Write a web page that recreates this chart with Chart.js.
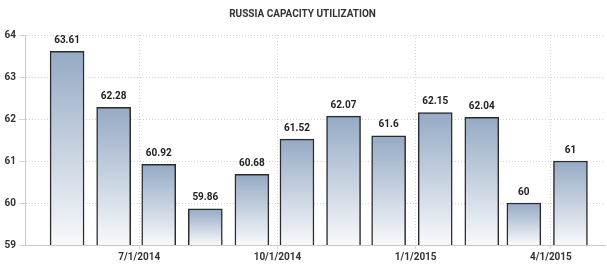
<!DOCTYPE html>
<html>
<head>
<meta charset="utf-8">
<script src="https://cdn.jsdelivr.net/npm/chart.js@4"></script>
<style>
  html, body { margin: 0; padding: 0; background: #fff; }
  #wrap { width: 607px; height: 264px; }
</style>
</head>
<body>
<div id="wrap"><canvas id="myChart" width="607" height="264"></canvas></div>
<script>
// bars sit mid-month, axis ticks on the first of each quarter
const barDates = ['2014-05-14', '2014-06-14', '2014-07-14', '2014-08-14', '2014-09-14', '2014-10-14',
                  '2014-11-14', '2014-12-14', '2015-01-14', '2015-02-14', '2015-03-14', '2015-04-14'];
const values = [63.61, 62.28, 60.92, 59.86, 60.68, 61.52, 62.07, 61.6, 62.15, 62.04, 60, 61];
const tickDates = ['2014-07-01', '2014-10-01', '2015-01-01', '2015-04-01'];
const tickLabels = ['7/1/2014', '10/1/2014', '1/1/2015', '4/1/2015'];
const rangeStart = '2014-04-16';
const rangeEnd = '2015-05-07';

const day = d => Date.parse(d) / 86400000;
const labelFont = { family: 'Roboto', size: 10, weight: 'bold' };

const valueLabels = {
    id: 'valueLabels',
    afterDatasetsDraw(chart) {
        const ctx = chart.ctx;
        const meta = chart.getDatasetMeta(0);
        ctx.save();
        ctx.font = 'bold 10px Roboto';
        ctx.fillStyle = '#222';
        ctx.textAlign = 'center';
        ctx.textBaseline = 'bottom';
        meta.data.forEach((bar, i) => {
            ctx.fillText(String(values[i]), bar.x, bar.y - 6);
        });
        ctx.restore();
    }
};

const ctx = document.getElementById('myChart');
const myChart = new Chart(ctx, {
    type: 'bar',
    data: {
        datasets: [{
            data: barDates.map((d, i) => ({ x: day(d), y: values[i] })),
            backgroundColor: (c) => {
                const chart = c.chart;
                const area = chart.chartArea;
                if (!area || !c.raw) return '#b8c6d8';
                const top = chart.scales.y.getPixelForValue(c.raw.y);
                const g = chart.ctx.createLinearGradient(0, top, 0, area.bottom);
                g.addColorStop(0, '#95aac5');
                g.addColorStop(1, '#f8f9fb');
                return g;
            },
            borderColor: '#2b2b2b',
            borderWidth: 1.5,
            barThickness: 34
        }]
    },
    options: {
        responsive: false,
        animation: false,
        layout: { padding: { left: 0, right: 2, top: 0, bottom: 0 } },
        plugins: {
            legend: { display: false },
            tooltip: { enabled: false },
            title: {
                display: true,
                text: 'RUSSIA CAPACITY UTILIZATION',
                color: '#333',
                font: { family: 'Roboto', size: 10, weight: 'bold' },
                padding: { top: 8, bottom: 15 }
            }
        },
        scales: {
            x: {
                type: 'linear',
                offset: false,
                min: day(rangeStart),
                max: day(rangeEnd),
                afterBuildTicks: (s) => {
                    s.ticks = tickDates.map(d => ({ value: day(d) }));
                },
                afterFit: (s) => { s.height = 19; },
                ticks: {
                    callback: (v, i) => tickLabels[i],
                    color: '#333',
                    font: labelFont,
                    padding: 2,
                    maxRotation: 0,
                    autoSkip: false
                },
                grid: { color: '#d4d4d4', tickLength: 4, offset: false },
                border: { color: '#c8c8c8', dash: [1, 2] }
            },
            y: {
                min: 59,
                max: 64,
                afterFit: (s) => { s.width = 25; },
                ticks: { stepSize: 1, color: '#333', font: labelFont, padding: 3 },
                grid: { color: '#d4d4d4', tickLength: 6 },
                border: { color: '#c8c8c8', dash: [1, 2] }
            }
        }
    },
    plugins: [valueLabels]
});
</script>
</body>
</html>
